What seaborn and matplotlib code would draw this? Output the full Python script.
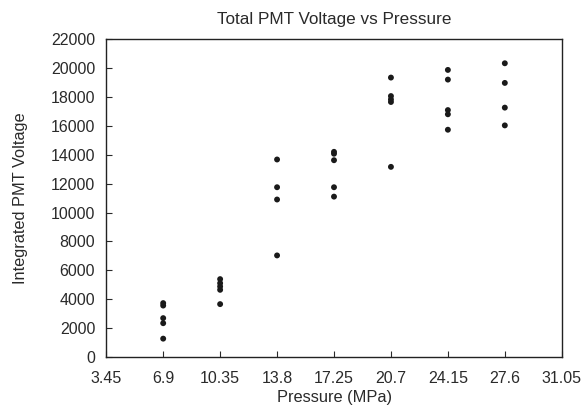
import numpy as np
import pandas as pd
import matplotlib
matplotlib.use('Agg')
import matplotlib.pyplot as plt
import seaborn as sns

pressure = [6.9] * 5 + [10.35] * 5 + [13.8] * 4 + [17.25] * 5 + [20.7] * 5 + [24.15] * 5 + [27.6] * 4
voltage = [3730, 3560, 2690, 2340, 1270,
           5390, 5110, 4880, 4650, 3660,
           13670, 11750, 10900, 7030,
           14200, 14070, 13620, 11750, 11100,
           19340, 18060, 17830, 17650, 13160,
           19870, 19200, 17090, 16800, 15730,
           20330, 18970, 17260, 16030]

x_ticks = [3.45, 6.9, 10.35, 13.8, 17.25, 20.7, 24.15, 27.6, 31.05]
x_tick_labels = ['3.45', '6.9', '10.35', '13.8', '17.25', '20.7', '24.15', '27.6', '31.05']
y_ticks = list(range(0, 22001, 2000))

df = pd.DataFrame({'pressure': pressure, 'voltage': voltage})

sns.set_style('white')
plt.rcParams['font.family'] = ['Liberation Sans', 'DejaVu Sans']

fig = plt.figure(figsize=(5.87, 4.12), dpi=100)
ax = fig.add_axes([0.181, 0.1335, 0.776, 0.7715])

sns.scatterplot(data=df, x='pressure', y='voltage', color='#1a1a1a', s=18,
                edgecolor='none', ax=ax)

ax.set_xlim(3.45, 31.05)
ax.set_ylim(0, 22000)
ax.set_xticks(x_ticks)
ax.set_xticklabels(x_tick_labels)
ax.set_yticks(y_ticks)
# gnuplot-like inward ticks on the bottom and left only
ax.tick_params(direction='in', length=4, width=0.8, labelsize=11.5, colors='#2a2a2a',
               bottom=True, left=True, top=False, right=False)
ax.tick_params(axis='x', pad=10)
ax.tick_params(axis='y', pad=8)

for sp in ax.spines.values():
    sp.set_color('#222222')
    sp.set_linewidth(1.0)

ax.set_xlabel('Pressure (MPa)', fontsize=11.8, color='#2a2a2a', labelpad=3)
ax.set_ylabel('Integrated PMT Voltage', fontsize=11.8, color='#2a2a2a', labelpad=16)
ax.set_title('Total PMT Voltage vs Pressure', fontsize=12.3, color='#2a2a2a', pad=11)

fig.savefig('out.png', dpi=100)
